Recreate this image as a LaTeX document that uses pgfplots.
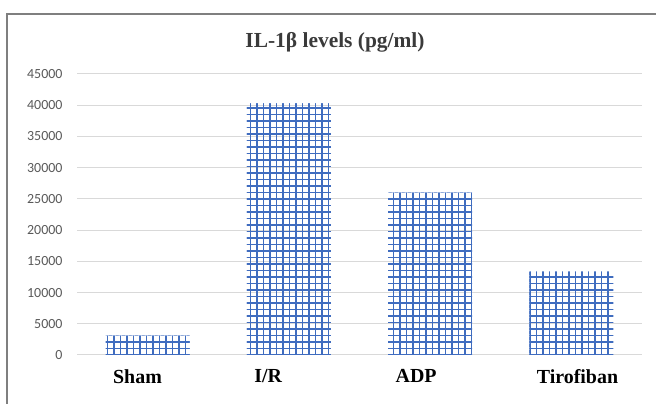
\documentclass[border=0pt]{standalone}
\usepackage{pgfplots}
\pgfplotsset{compat=1.18}
\usetikzlibrary{patterns.meta}
\usepackage{fontspec}
\setmainfont{Liberation Serif}
\newfontfamily\carlito{Carlito}

\definecolor{barblue}{HTML}{3F6CBF}
\definecolor{gridgray}{HTML}{D9D9D9}
\definecolor{tickgray}{HTML}{595959}
\definecolor{titlegray}{HTML}{3A3A3A}
\definecolor{framegray}{HTML}{7F7F7F}

% grid fill of the bars; tiles overlap a little so no seams show
\tikzdeclarepattern{
  name=bargrid,
  type=uncolored,
  bounding box={(-1.5bp,-1.5bp) and (8bp,8bp)},
  tile size={(6.5bp,6.5bp)},
  code={
    \draw[line width=1.5bp] (-1.5bp,3.25bp) -- (8bp,3.25bp);
    \draw[line width=1.5bp] (3.25bp,-1.5bp) -- (3.25bp,8bp);
  }
}

\begin{document}
\begin{tikzpicture}
    \useasboundingbox (0,0) rectangle (656bp,404bp);
    % frame of the chart area (cut off at right and bottom)
    \draw[framegray, line width=1.6bp] (7bp,-5bp) -- (7bp,390bp) -- (665bp,390bp);

    \begin{axis}[
        at={(77bp,49bp)},
        anchor=south west,
        scale only axis,
        width=565bp,
        height=281bp,
        xmin=-0.5, xmax=3.5,
        ymin=0, ymax=45000,
        ytick={0,5000,...,45000},
        scaled y ticks=false,
        xtick={0,1,2,3},
        xticklabels={Sham, I/R, ADP, Tirofiban},
        ymajorgrids,
        grid style={gridgray, line width=1bp},
        axis line style={draw=none},
        tick style={draw=none},
        /pgf/number format/1000 sep={},
        /pgf/number format/assume math mode=true,
        yticklabel style={font=\carlito\fontsize{14}{16}\selectfont, text=tickgray, xshift=-11bp},
        xticklabel style={font=\bfseries\fontsize{20}{24}\selectfont, anchor=north west, xshift=-38bp, yshift=-11bp},
    ]
        \addplot[
            ybar,
            bar width=84bp,
            draw=none,
            pattern=bargrid,
            pattern color=barblue,
        ] coordinates {
            (0,3100)
            (1,40300)
            (2,26000)
            (3,13400)
        };
    \end{axis}

    \node[anchor=base, text=titlegray, font=\bfseries\fontsize{21.5}{25}\selectfont] at (335bp,356bp) {IL-1β levels (pg/ml)};
\end{tikzpicture}
\end{document}
